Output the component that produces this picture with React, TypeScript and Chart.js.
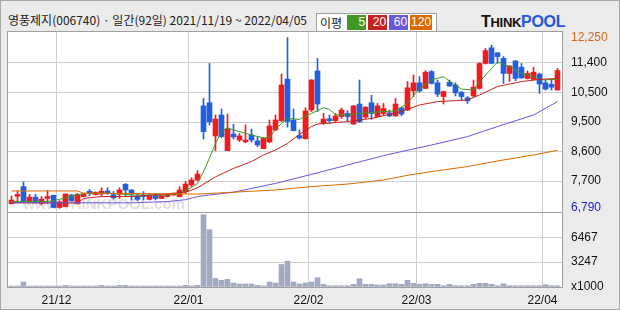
import React, { useEffect, useRef } from "react";
import { Chart, registerables } from "chart.js";

Chart.register(...registerables);

// ---- data (92 trading days, 2021/11/19 ~ 2022/04/05) ----
const opens = [6930, 7170, 7480, 7000, 7140, 6940, 7100, 7200, 6810, 6840, 7210, 6940, 7160, 7330, 7220, 7240, 7340, 7220, 7230, 7550, 7370, 7180, 7200, 7070, 7210, 7100, 7160, 7210, 7160, 7320, 7530, 7690, 10060, 10160, 9100, 9770, 8630, 9160, 8970, 8910, 9130, 8940, 8690, 8910, 9290, 9590, 10920, 9610, 9110, 9010, 9930, 11180, 9520, 9650, 9590, 9720, 9820, 9480, 10120, 9700, 10160, 9720, 9820, 9840, 9740, 10000, 9930, 10540, 10800, 10620, 11160, 10800, 10360, 10820, 10730, 10500, 10320, 10380, 10620, 11420, 11920, 11760, 11580, 11100, 11500, 11300, 10940, 10910, 11080, 10800, 10750, 10570];
const highs = [7180, 7350, 7630, 7230, 7230, 7160, 7350, 7210, 7030, 7250, 7230, 7260, 7250, 7390, 7310, 7440, 7440, 7320, 7440, 7580, 7380, 7260, 7320, 7260, 7260, 7200, 7240, 7270, 7480, 7640, 7760, 7990, 10300, 11420, 9770, 9960, 9800, 9470, 9180, 9450, 9320, 9060, 9060, 9610, 9770, 11080, 12250, 9960, 9290, 10000, 10900, 11580, 9820, 9770, 9820, 9990, 9910, 10070, 10890, 10040, 10400, 10140, 10140, 9930, 10300, 10020, 10840, 11050, 11000, 11190, 11190, 10890, 10540, 10890, 10800, 10520, 10360, 10890, 11440, 11900, 12010, 11770, 11640, 11350, 11510, 11420, 11180, 11300, 11110, 10890, 10890, 11260];
const lows = [6920, 7000, 6990, 6960, 6960, 6890, 6940, 6800, 6790, 6830, 7010, 6920, 7150, 7190, 7210, 7190, 7230, 7080, 7100, 7190, 7050, 7030, 7050, 7050, 7050, 7090, 7150, 7200, 7150, 7260, 7480, 7670, 9000, 9450, 8630, 9040, 8630, 9000, 8920, 8880, 8900, 8760, 8690, 8880, 9270, 9560, 9380, 9260, 9000, 9000, 9880, 9880, 9470, 9510, 9560, 9660, 9560, 9470, 9530, 9660, 9630, 9700, 9770, 9720, 9730, 9740, 9920, 10360, 10500, 10610, 10760, 10360, 10120, 10680, 10380, 10250, 10140, 10360, 10600, 11400, 11430, 11420, 10780, 10840, 10870, 10940, 10920, 10890, 10460, 10570, 10570, 10560];
const closes = [7050, 7230, 7000, 7140, 7000, 7080, 7160, 6810, 6990, 7240, 7020, 7230, 7230, 7250, 7300, 7330, 7260, 7120, 7370, 7370, 7240, 7070, 7160, 7190, 7100, 7190, 7230, 7260, 7370, 7560, 7690, 7880, 9240, 9550, 9640, 9080, 9320, 9070, 9100, 8970, 8970, 8810, 9020, 9420, 9610, 10730, 9560, 9270, 9030, 9900, 10890, 10120, 9640, 9590, 9740, 9930, 9720, 10060, 9550, 10020, 9820, 10060, 9980, 9740, 10120, 9800, 10640, 10800, 10540, 11140, 10780, 10440, 10520, 10700, 10480, 10360, 10220, 10660, 11420, 11830, 11420, 11640, 11100, 11340, 10940, 10960, 11100, 11140, 10760, 10600, 10660, 11190];
// volume, in thousands of shares
const volumes = [130, 130, 650, 130, 130, 130, 130, 130, 130, 220, 130, 130, 130, 130, 130, 220, 130, 130, 220, 220, 130, 130, 130, 130, 130, 130, 130, 130, 130, 220, 130, 220, 9400, 7460, 1120, 870, 1000, 520, 390, 390, 390, 220, 130, 650, 520, 2930, 3360, 650, 390, 520, 650, 1200, 350, 170, 170, 170, 170, 350, 1080, 350, 350, 260, 260, 430, 430, 350, 870, 480, 350, 430, 350, 350, 170, 350, 170, 170, 170, 350, 480, 480, 350, 170, 430, 170, 170, 170, 170, 170, 170, 300, 170, 170];

// moving averages: [day index, price]
const ma5 = [[0, 7000], [6, 7000], [8, 7070], [12, 7260], [17, 7260], [20, 7210], [26, 7210], [28, 7260], [30, 7450], [31, 7580], [32, 7950], [33, 8400], [34, 8850], [35, 9250], [36, 9360], [37, 9290], [40, 9130], [42, 9040], [43, 9050], [44, 9300], [45, 9500], [46, 9660], [48, 9630], [50, 9820], [52, 10000], [53, 9950], [54, 9780], [56, 9770], [59, 9840], [62, 9880], [64, 9900], [66, 10150], [68, 10620], [70, 10890], [72, 11000], [73, 10850], [75, 10600], [77, 10570], [78, 10830], [80, 11260], [81, 11470], [83, 11320], [85, 11100], [87, 11000], [88, 10890], [91, 10910]];
const ma20 = [[0, 6960], [11, 6960], [12, 7100], [15, 7160], [20, 7160], [25, 7230], [29, 7300], [31, 7440], [34, 7790], [37, 8060], [40, 8280], [42, 8490], [44, 8650], [46, 8860], [48, 9150], [50, 9400], [51, 9480], [56, 9560], [60, 9660], [65, 9880], [68, 10090], [71, 10200], [76, 10250], [78, 10410], [81, 10680], [85, 10840], [88, 10910], [91, 10940]];
const ma60 = [[0, 6960], [20, 6960], [26, 7000], [29, 7060], [31, 7160], [33, 7210], [37, 7300], [44, 7580], [50, 7870], [56, 8170], [62, 8470], [65, 8600], [70, 8810], [76, 9080], [81, 9400], [87, 9770], [91, 10200]];
const ma120 = [[0, 7340], [11, 7340], [12, 7270], [31, 7240], [37, 7300], [44, 7370], [50, 7480], [56, 7560], [62, 7690], [66, 7840], [70, 7960], [76, 8120], [81, 8300], [87, 8490], [91, 8640]];

const monthStarts = [8, 30, 50, 68, 89];
const monthLabels = ["21/12", "22/01", "22/02", "22/03", "22/04"];
const priceTicks = [6790, 7655, 8600, 9545, 10490, 11435, 12250];
const priceTickLabels = ["6,790", "7,700", "8,600", "9,500", "10,500", "11,400", "12,250"];
const volTicks = [0, 3247, 6467];
const volTickLabels = ["x1000", "3247", "6467"];

const UP = "#ee1c1c";
const DOWN = "#1f5fe0";
const GRID = "#cfcfcf";
const FRAME = "#a0a0a0";
const AXIS_FONT = { family: "Liberation Sans", size: 12 };
const X_MIN = -0.5833;
const X_MAX = 91.75;
const RIGHT_AXIS_W = 58;

const candleColor = (i: number) => (closes[i] >= opens[i] ? UP : DOWN);

const panelPlugin = {
  id: "panel",
  beforeDraw(chart: any) {
    const { ctx, chartArea: a } = chart;
    ctx.save();
    ctx.fillStyle = "#ffffff";
    ctx.fillRect(a.left, a.top, a.right - a.left, a.bottom - a.top);
    ctx.restore();
  },
  afterDraw(chart: any) {
    const { ctx, chartArea: a } = chart;
    ctx.save();
    ctx.strokeStyle = FRAME;
    ctx.lineWidth = 1;
    ctx.strokeRect(a.left - 0.5, a.top - 0.5, a.right - a.left + 1, a.bottom - a.top + 1);
    ctx.restore();
  },
};

const watermarkPlugin = {
  id: "watermark",
  beforeDatasetsDraw(chart: any) {
    const { ctx, chartArea: a } = chart;
    ctx.save();
    ctx.font = "bold 15px 'Liberation Sans'";
    ctx.fillStyle = "rgba(185,185,185,0.45)";
    ctx.textBaseline = "alphabetic";
    ctx.fillText("www.THINKPOOL.com", a.left + 15, a.bottom - 3);
    ctx.restore();
  },
};

const xScale = (showLabels: boolean) => ({
  type: "linear",
  min: X_MIN,
  max: X_MAX,
  offset: false,
  afterBuildTicks: (s: any) => {
    s.ticks = monthStarts.map((m) => ({ value: m - 0.5 }));
  },
  afterFit: (s: any) => {
    s.height = showLabels ? 23 : 0;
    s.paddingLeft = 0;
    s.paddingRight = 0;
  },
  grid: { color: GRID, lineWidth: 1, drawTicks: false, offset: false },
  border: { display: false },
  ticks: {
    display: showLabels,
    autoSkip: false,
    maxRotation: 0,
    padding: 6,
    color: "#111",
    font: AXIS_FONT,
    callback: (_v: any, i: number) => monthLabels[i],
  },
});

const fixRightAxis = (s: any) => {
  s.width = RIGHT_AXIS_W;
  s.paddingTop = 0;
  s.paddingBottom = 0;
};

export default function App() {
  const priceRef = useRef<HTMLCanvasElement>(null);
  const volRef = useRef<HTMLCanvasElement>(null);

  useEffect(() => {
    const idx = closes.map((_, i) => i);
    const lastP = priceTicks.length - 1;
    const line = (pts: number[][], color: string, label: string) => ({
      type: "line",
      label,
      data: pts.map(([x, y]) => ({ x, y })),
      borderColor: color,
      borderWidth: 1,
      pointRadius: 0,
      tension: 0,
      order: 0,
    });
    const price = new Chart(priceRef.current as HTMLCanvasElement, {
      type: "bar",
      data: {
        datasets: [
          {
            type: "bar",
            label: "wick",
            data: idx.map((i) => ({ x: i, y: [lows[i], highs[i]] })),
            backgroundColor: idx.map(candleColor),
            barThickness: 1,
            grouped: false,
            order: 2,
          },
          {
            type: "bar",
            label: "body",
            data: idx.map((i) => ({ x: i, y: [opens[i], closes[i]] })),
            backgroundColor: idx.map(candleColor),
            barThickness: 5,
            minBarLength: 1,
            grouped: false,
            order: 1,
          },
          line(ma120, "#dc6a00", "120"),
          line(ma60, "#6a58dc", "60"),
          line(ma20, "#c42222", "20"),
          line(ma5, "#3f9a22", "5"),
        ],
      } as any,
      options: {
        animation: false,
        responsive: false,
        devicePixelRatio: 1,
        layout: { padding: { left: 8, top: 4, right: 0, bottom: 6 } },
        plugins: { legend: { display: false }, tooltip: { enabled: false } },
        scales: {
          x: xScale(false),
          y: {
            type: "linear",
            position: "right",
            min: 6666,
            max: 12426,
            afterBuildTicks: (s: any) => {
              s.ticks = priceTicks.map((v) => ({ value: v }));
            },
            afterFit: fixRightAxis,
            grid: {
              drawTicks: false,
              color: (c: any) => (c.index === 0 || c.index === lastP ? "rgba(0,0,0,0)" : GRID),
            },
            border: { display: false },
            ticks: {
              autoSkip: false,
              padding: 9,
              font: AXIS_FONT,
              color: (c: any) => (c.index === lastP ? "#d2691e" : c.index === 0 ? "#1a1ad0" : "#111"),
              callback: (_v: any, i: number) => priceTickLabels[i],
            },
          },
        },
      } as any,
      plugins: [panelPlugin, watermarkPlugin],
    });

    const vol = new Chart(volRef.current as HTMLCanvasElement, {
      type: "bar",
      data: {
        datasets: [
          {
            label: "volume",
            data: idx.map((i) => ({ x: i, y: volumes[i] })),
            backgroundColor: "#a2aac2",
            barThickness: 5,
            minBarLength: 1,
          },
        ],
      } as any,
      options: {
        animation: false,
        responsive: false,
        devicePixelRatio: 1,
        layout: { padding: { left: 8, top: 1, right: 0, bottom: 0 } },
        plugins: { legend: { display: false }, tooltip: { enabled: false } },
        scales: {
          x: xScale(true),
          y: {
            type: "linear",
            position: "right",
            min: 0,
            max: 9620,
            afterBuildTicks: (s: any) => {
              s.ticks = volTicks.map((v) => ({ value: v }));
            },
            afterFit: fixRightAxis,
            grid: {
              drawTicks: false,
              color: (c: any) => (c.index === 0 ? "rgba(0,0,0,0)" : GRID),
            },
            border: { display: false },
            ticks: {
              autoSkip: false,
              padding: 9,
              font: AXIS_FONT,
              color: "#111",
              callback: (_v: any, i: number) => volTickLabels[i],
            },
          },
        },
      } as any,
      plugins: [panelPlugin],
    });

    return () => {
      price.destroy();
      vol.destroy();
    };
  }, []);

  const legendBox = (bg: string, text: string, w: number) => (
    <span
      style={{
        display: "inline-block",
        width: w,
        height: 15,
        background: bg,
        color: "#fff",
        textAlign: "right",
        fontSize: 12,
        lineHeight: "15px",
        marginLeft: 2,
        paddingRight: 1,
        boxSizing: "border-box",
        fontFamily: "Liberation Sans",
      }}
    >
      {text}
    </span>
  );

  return (
    <div
      style={{
        position: "fixed",
        left: 0,
        top: 0,
        width: 620,
        height: 310,
        background: "#ebebeb",
        boxSizing: "border-box",
        border: "1px solid #a8a8a8",
        overflow: "hidden",
      }}
    >
      <div
        style={{
          position: "absolute",
          left: 7,
          top: 11,
          fontFamily: "'Noto Sans CJK KR'",
          fontSize: 12,
          color: "#222",
          whiteSpace: "nowrap",
          lineHeight: "16px",
        }}
      >
        영풍제지(006740) · 일간(92일) 2021/11/19 ~ 2022/04/05
      </div>
      <div
        style={{
          position: "absolute",
          left: 315,
          top: 12,
          width: 121,
          height: 19,
          background: "#fff",
          border: "1px solid #a0a0a0",
          boxSizing: "border-box",
          display: "flex",
          alignItems: "center",
          paddingLeft: 3,
          whiteSpace: "nowrap",
        }}
      >
        <span style={{ fontFamily: "'Noto Sans CJK KR'", fontSize: 12, color: "#222", marginRight: 3 }}>이평</span>
        {legendBox("#3f9a22", "5", 19)}
        {legendBox("#c42222", "20", 19)}
        {legendBox("#6a58dc", "60", 19)}
        {legendBox("#dc6a00", "120", 22)}
      </div>
      <div
        style={{
          position: "absolute",
          left: 480,
          top: 12,
          fontFamily: "'Liberation Sans'",
          fontWeight: 900,
          fontSize: 16,
          letterSpacing: -0.3,
          whiteSpace: "nowrap",
          lineHeight: "18px",
        }}
      >
        <span style={{ color: "#111" }}>T</span>
        <span style={{ color: "#111", fontSize: 13 }}>HINK</span>
        <span style={{ color: "#2457d8" }}>POOL</span>
      </div>
      <canvas ref={priceRef} width={620} height={190} style={{ position: "absolute", left: -1, top: 27 }} />
      <canvas ref={volRef} width={620} height={98} style={{ position: "absolute", left: -1, top: 211 }} />
    </div>
  );
}
